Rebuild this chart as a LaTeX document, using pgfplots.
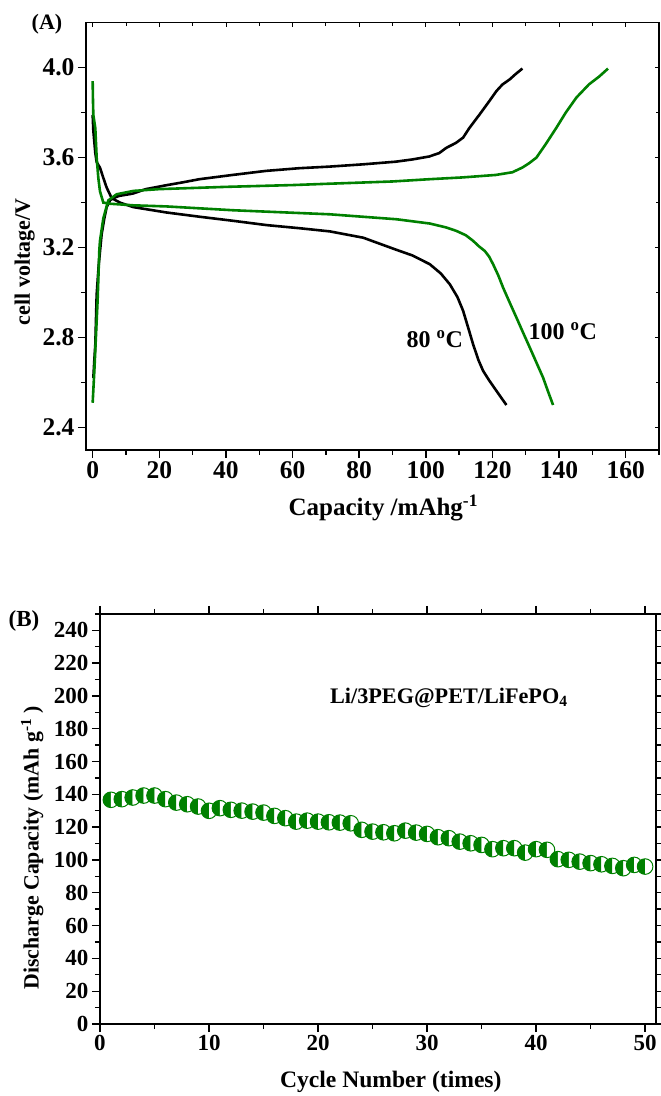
\documentclass[border=0pt]{standalone}
\usepackage{pgfplots}
\pgfplotsset{compat=1.18}
\usepackage{fontspec}
\setmainfont{Liberation Serif}
\usetikzlibrary{plotmarks}
\definecolor{dgreen}{RGB}{0,128,0}
\begin{document}
\bfseries
\begin{tikzpicture}
\useasboundingbox (0pt,0pt) rectangle (661pt,1096pt);
\pgfplotsset{
  every axis/.append style={
    scale only axis,
    axis line style={line width=1.6pt},
    every tick/.style={line width=1.4pt, black},
    /pgf/number format/assume math mode=true,
    tick label style={font=\fontsize{25.5}{25.5}\selectfont\bfseries},
    label style={font=\fontsize{25}{25}\selectfont\bfseries},
  },
}
% ---------------- Panel A ----------------
\begin{axis}[
  at={(86pt,646pt)}, anchor=south west,
  width=573pt, height=427.3pt,
  xmin=-2, xmax=170, ymin=2.3, ymax=4.2,
  xtick={0,20,...,160}, minor xtick={10,30,...,170},
  ytick={2.4,2.8,3.2,3.6,4.0}, minor ytick={2.6,3.0,3.4,3.8},
  xtick pos=bottom, ytick pos=left,
  tick align=outside,
  major tick length=8pt, minor tick length=5pt,
  yticklabel style={/pgf/number format/.cd,fixed,fixed zerofill,precision=1},
  xlabel={Capacity /mAhg\textsuperscript{-1}},
  ylabel={cell voltage/V},
  xlabel style={at={(axis description cs:0.519,-0.136)}, anchor=center},
  ylabel style={at={(axis description cs:-0.107,0.44)}, anchor=center, font=\fontsize{22}{22}\selectfont\bfseries},
]
% 80 C charge
\addplot[black, line width=2.6pt] coordinates {
(0.2,2.62)(0.5,2.70)(0.8,2.77)(1.0,2.88)(1.2,2.99)(1.8,3.12)(2.7,3.26)(3.5,3.33)(4.2,3.38)(5.2,3.41)(6.2,3.42)(8,3.43)(12,3.44)(16,3.46)(22,3.477)(27,3.49)(32,3.504)(42,3.523)(52,3.541)(62,3.553)(71,3.56)(81,3.57)(91,3.582)(96,3.592)(101,3.605)(104,3.62)(106.2,3.644)(109,3.665)(111.2,3.689)(113,3.73)(116.2,3.793)(119,3.85)(121.2,3.896)(123,3.925)(125.2,3.948)(127,3.972)(129,3.996)
};
% 80 C discharge
\addplot[black, line width=2.6pt] coordinates {
(0,3.79)(0.2,3.72)(0.8,3.62)(1.2,3.58)(2.2,3.555)(3.2,3.51)(4.2,3.467)(5.7,3.42)(8.2,3.40)(12.2,3.38)(22.2,3.356)(32.2,3.337)(42.2,3.319)(52.2,3.30)(62.2,3.286)(71.2,3.272)(81.2,3.244)(91.2,3.19)(96,3.165)(101.2,3.126)(104.5,3.085)(107.2,3.037)(109.5,2.98)(111.2,2.919)(112.8,2.84)(114.2,2.77)(115.8,2.70)(117.2,2.652)(119,2.61)(121.2,2.563)(123,2.525)(124.2,2.50)
};
% 100 C charge
\addplot[dgreen, line width=2.6pt] coordinates {
(0,2.51)(0.5,2.65)(1.0,2.81)(1.5,2.97)(2.0,3.19)(2.2,3.23)(3.2,3.33)(4.7,3.41)(7.2,3.437)(12.2,3.452)(20,3.46)(40,3.47)(60,3.478)(71,3.484)(90,3.494)(101,3.504)(111,3.512)(121,3.523)(126,3.535)(129,3.556)(131,3.575)(133.2,3.60)(136,3.66)(139.2,3.733)(142,3.80)(145.2,3.867)(149,3.926)(152,3.96)(154.7,3.996)
};
% 100 C discharge
\addplot[dgreen, line width=2.6pt] coordinates {
(0,3.94)(0.1,3.85)(0.2,3.79)(0.8,3.73)(1.2,3.60)(1.7,3.51)(2.2,3.45)(3.2,3.40)(5.2,3.395)(12.2,3.388)(22.2,3.383)(42.2,3.366)(71.2,3.348)(91.2,3.326)(101.2,3.307)(106,3.29)(109.2,3.274)(112,3.255)(114.2,3.23)(116,3.205)(117.7,3.185)(119,3.16)(120.2,3.126)(121.8,3.075)(123.2,3.022)(125.2,2.955)(127.2,2.889)(129.2,2.822)(131.2,2.756)(133.2,2.689)(135.2,2.622)(136.7,2.56)(138.2,2.50)
};
\node[font=\fontsize{24}{24}\selectfont\bfseries] at (axis cs:102.7,2.794) {80 \textsuperscript{o}C};
\node[font=\fontsize{24}{24}\selectfont\bfseries] at (axis cs:141.1,2.83) {100 \textsuperscript{o}C};
\end{axis}
\begin{axis}[
  at={(86pt,646pt)}, anchor=south west,
  width=573pt, height=427.3pt,
  xmin=-2, xmax=170, ymin=2.3, ymax=4.2,
  xtick={0,20,...,160}, minor xtick={10,30,...,170},
  ytick={2.4,2.8,3.2,3.6,4.0}, minor ytick={2.6,3.0,3.4,3.8},
  xtick pos=top, ytick pos=right,
  tick align=inside,
  major tick length=4pt, minor tick length=3pt,
  xticklabels={}, yticklabels={},
  every tick/.style={line width=0.8pt, black},
]
\end{axis}
\node[font=\fontsize{22}{22}\selectfont\bfseries] at (47pt,1072pt) {(A)};
% ---------------- Panel B ----------------
\begin{axis}[
  at={(100pt,72pt)}, anchor=south west,
  width=556pt, height=410pt,
  xmin=0, xmax=51, ymin=0, ymax=250,
  xtick={0,10,...,50}, minor xtick={5,15,...,45},
  ytick={0,20,...,240}, minor ytick={10,30,...,250},
  tick align=outside,
  major tick length=8pt, minor tick length=5pt,
  tick label style={font=\fontsize{23}{23}\selectfont\bfseries},
  xlabel={Cycle Number (times)},
  ylabel={Discharge Capacity (mAh g\textsuperscript{-1} )},
  xlabel style={at={(axis description cs:0.523,-0.141)}, anchor=center, font=\fontsize{23.6}{23.6}\selectfont\bfseries},
  ylabel style={at={(axis description cs:-0.122,0.43)}, anchor=center, font=\fontsize{21.8}{21.8}\selectfont\bfseries},
]
\addplot[only marks, mark=halfcircle*, mark size=7.8pt,
  mark options={draw=dgreen, fill=dgreen, line width=1pt, rotate=90}] coordinates {
(1,136.7)(2,137.1)(3,138.1)(4,139.3)(5,139.3)(6,137.1)(7,135.0)(8,134.0)(9,132.6)(10,130.0)
(11,131.6)(12,130.6)(13,130.1)(14,129.5)(15,128.9)(16,126.9)(17,125.5)(18,123.4)(19,124.0)(20,123.4)
(21,123.0)(22,122.8)(23,122.4)(24,118.4)(25,117.3)(26,116.9)(27,116.3)(28,117.9)(29,116.7)(30,115.9)
(31,113.9)(32,113.3)(33,111.2)(34,110.2)(35,109.2)(36,106.6)(37,107.2)(38,107.2)(39,104.5)(40,106.6)
(41,106.2)(42,100.5)(43,100.1)(44,99.0)(45,98.1)(46,97.4)(47,96.4)(48,95.0)(49,97.0)(50,96.0)
};
\node[font=\fontsize{22.2}{22.2}\selectfont\bfseries] at (axis cs:32.0,199) {Li/3PEG@PET/LiFePO\textsubscript{4}};
\end{axis}
\node[font=\fontsize{23}{23}\selectfont\bfseries] at (24pt,475pt) {(B)};
\end{tikzpicture}
\end{document}
